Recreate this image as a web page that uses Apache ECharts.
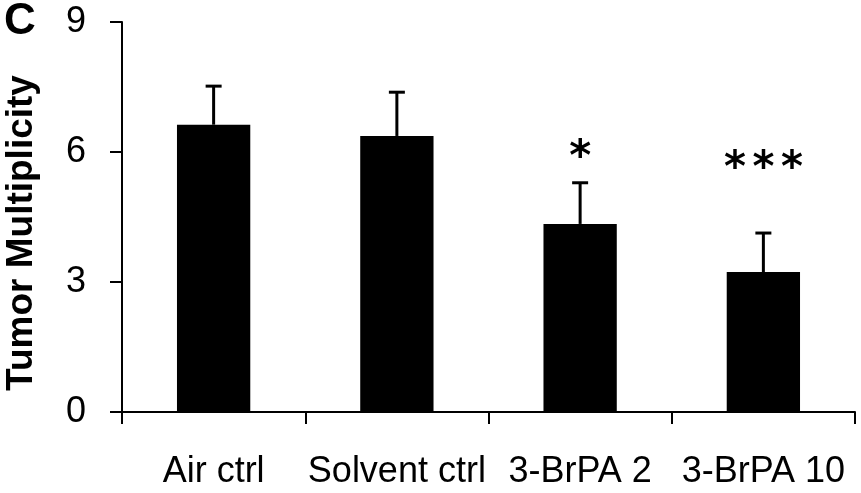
<!DOCTYPE html>
<html>
<head>
<meta charset="utf-8">
<script src="https://cdn.jsdelivr.net/npm/echarts@6/dist/echarts.min.js"></script>
<style>
  html, body { margin: 0; padding: 0; background: #fff; }
  #chart { width: 861px; height: 493px; }
</style>
</head>
<body>
<div id="chart"></div>
<script>
// 数据
const categories = ['Air ctrl', 'Solvent ctrl', '3-BrPA 2', '3-BrPA 10'];
const means = [6.63, 6.37, 4.34, 3.23];
const errors = [0.89, 1.01, 0.95, 0.90];
const starCounts = [0, 0, 1, 3];
const starLevels = [null, null, 5.84, 5.59];
const yTicks = [0, 3, 6, 9];

const chart = echarts.init(document.getElementById('chart'));
const font = '"Liberation Sans", Arial, sans-serif';

const option = {
    animation: false,
    grid: { left: 122, right: 6, top: 22, bottom: 81, containLabel: false, outerBoundsMode: 'none' },
    graphic: [
        {
            type: 'text',
            left: 4, top: 0,
            style: { text: 'C', font: 'bold 44px ' + font, fill: '#000' }
        },
        {
            // 纵轴标题
            type: 'text',
            x: 22, y: 233,
            rotation: Math.PI / 2,
            style: {
                text: 'Tumor Multiplicity',
                font: 'bold 37px ' + font,
                fill: '#000',
                align: 'center',
                verticalAlign: 'middle'
            }
        }
    ],
    xAxis: {
        type: 'category',
        data: categories,
        axisLine: { lineStyle: { color: '#000', width: 2 } },
        axisTick: { show: true, length: 12, lineStyle: { color: '#000', width: 2 } },
        axisLabel: { color: '#000', fontSize: 36, fontFamily: font, margin: 42, interval: 0 }
    },
    yAxis: {
        type: 'value',
        min: yTicks[0],
        max: yTicks[yTicks.length - 1],
        interval: 3,
        axisLine: { show: true, lineStyle: { color: '#000', width: 2 } },
        axisTick: { show: true, length: 12, lineStyle: { color: '#000', width: 2 } },
        axisLabel: { color: '#000', fontSize: 36, fontFamily: font, margin: 36 },
        splitLine: { show: false }
    },
    series: [
        {
            type: 'bar',
            data: means,
            barWidth: '40%',
            itemStyle: { color: '#000' }
        },
        {
            // 误差线
            type: 'custom',
            data: means.map((m, i) => [i, m, m + errors[i]]),
            renderItem: function(params, api) {
                const base = api.coord([api.value(0), api.value(1)]);
                const top = api.coord([api.value(0), api.value(2)]);
                const style = { stroke: '#000', lineWidth: 3 };
                return {
                    type: 'group',
                    children: [
                        { type: 'line', shape: { x1: base[0], y1: base[1], x2: top[0], y2: top[1] }, style: style },
                        { type: 'line', shape: { x1: top[0] - 8, y1: top[1], x2: top[0] + 8, y2: top[1] }, style: style }
                    ]
                };
            },
            z: 3
        },
        {
            // 显著性标记
            type: 'scatter',
            symbolSize: 0,
            itemStyle: { opacity: 1 },
            data: starLevels.map((v, i) => [i, v]),
            label: {
                show: true,
                position: 'inside',
                formatter: p => '{s|*}'.repeat(starCounts[p.dataIndex]),
                rich: {
                    s: {
                        color: '#000',
                        width: 28.5,
                        align: 'center',
                        fontSize: 42,
                        fontWeight: 'bold',
                        fontFamily: '"DejaVu Sans", sans-serif'
                    }
                }
            }
        }
    ]
};

chart.setOption(option);
</script>
</body>
</html>
